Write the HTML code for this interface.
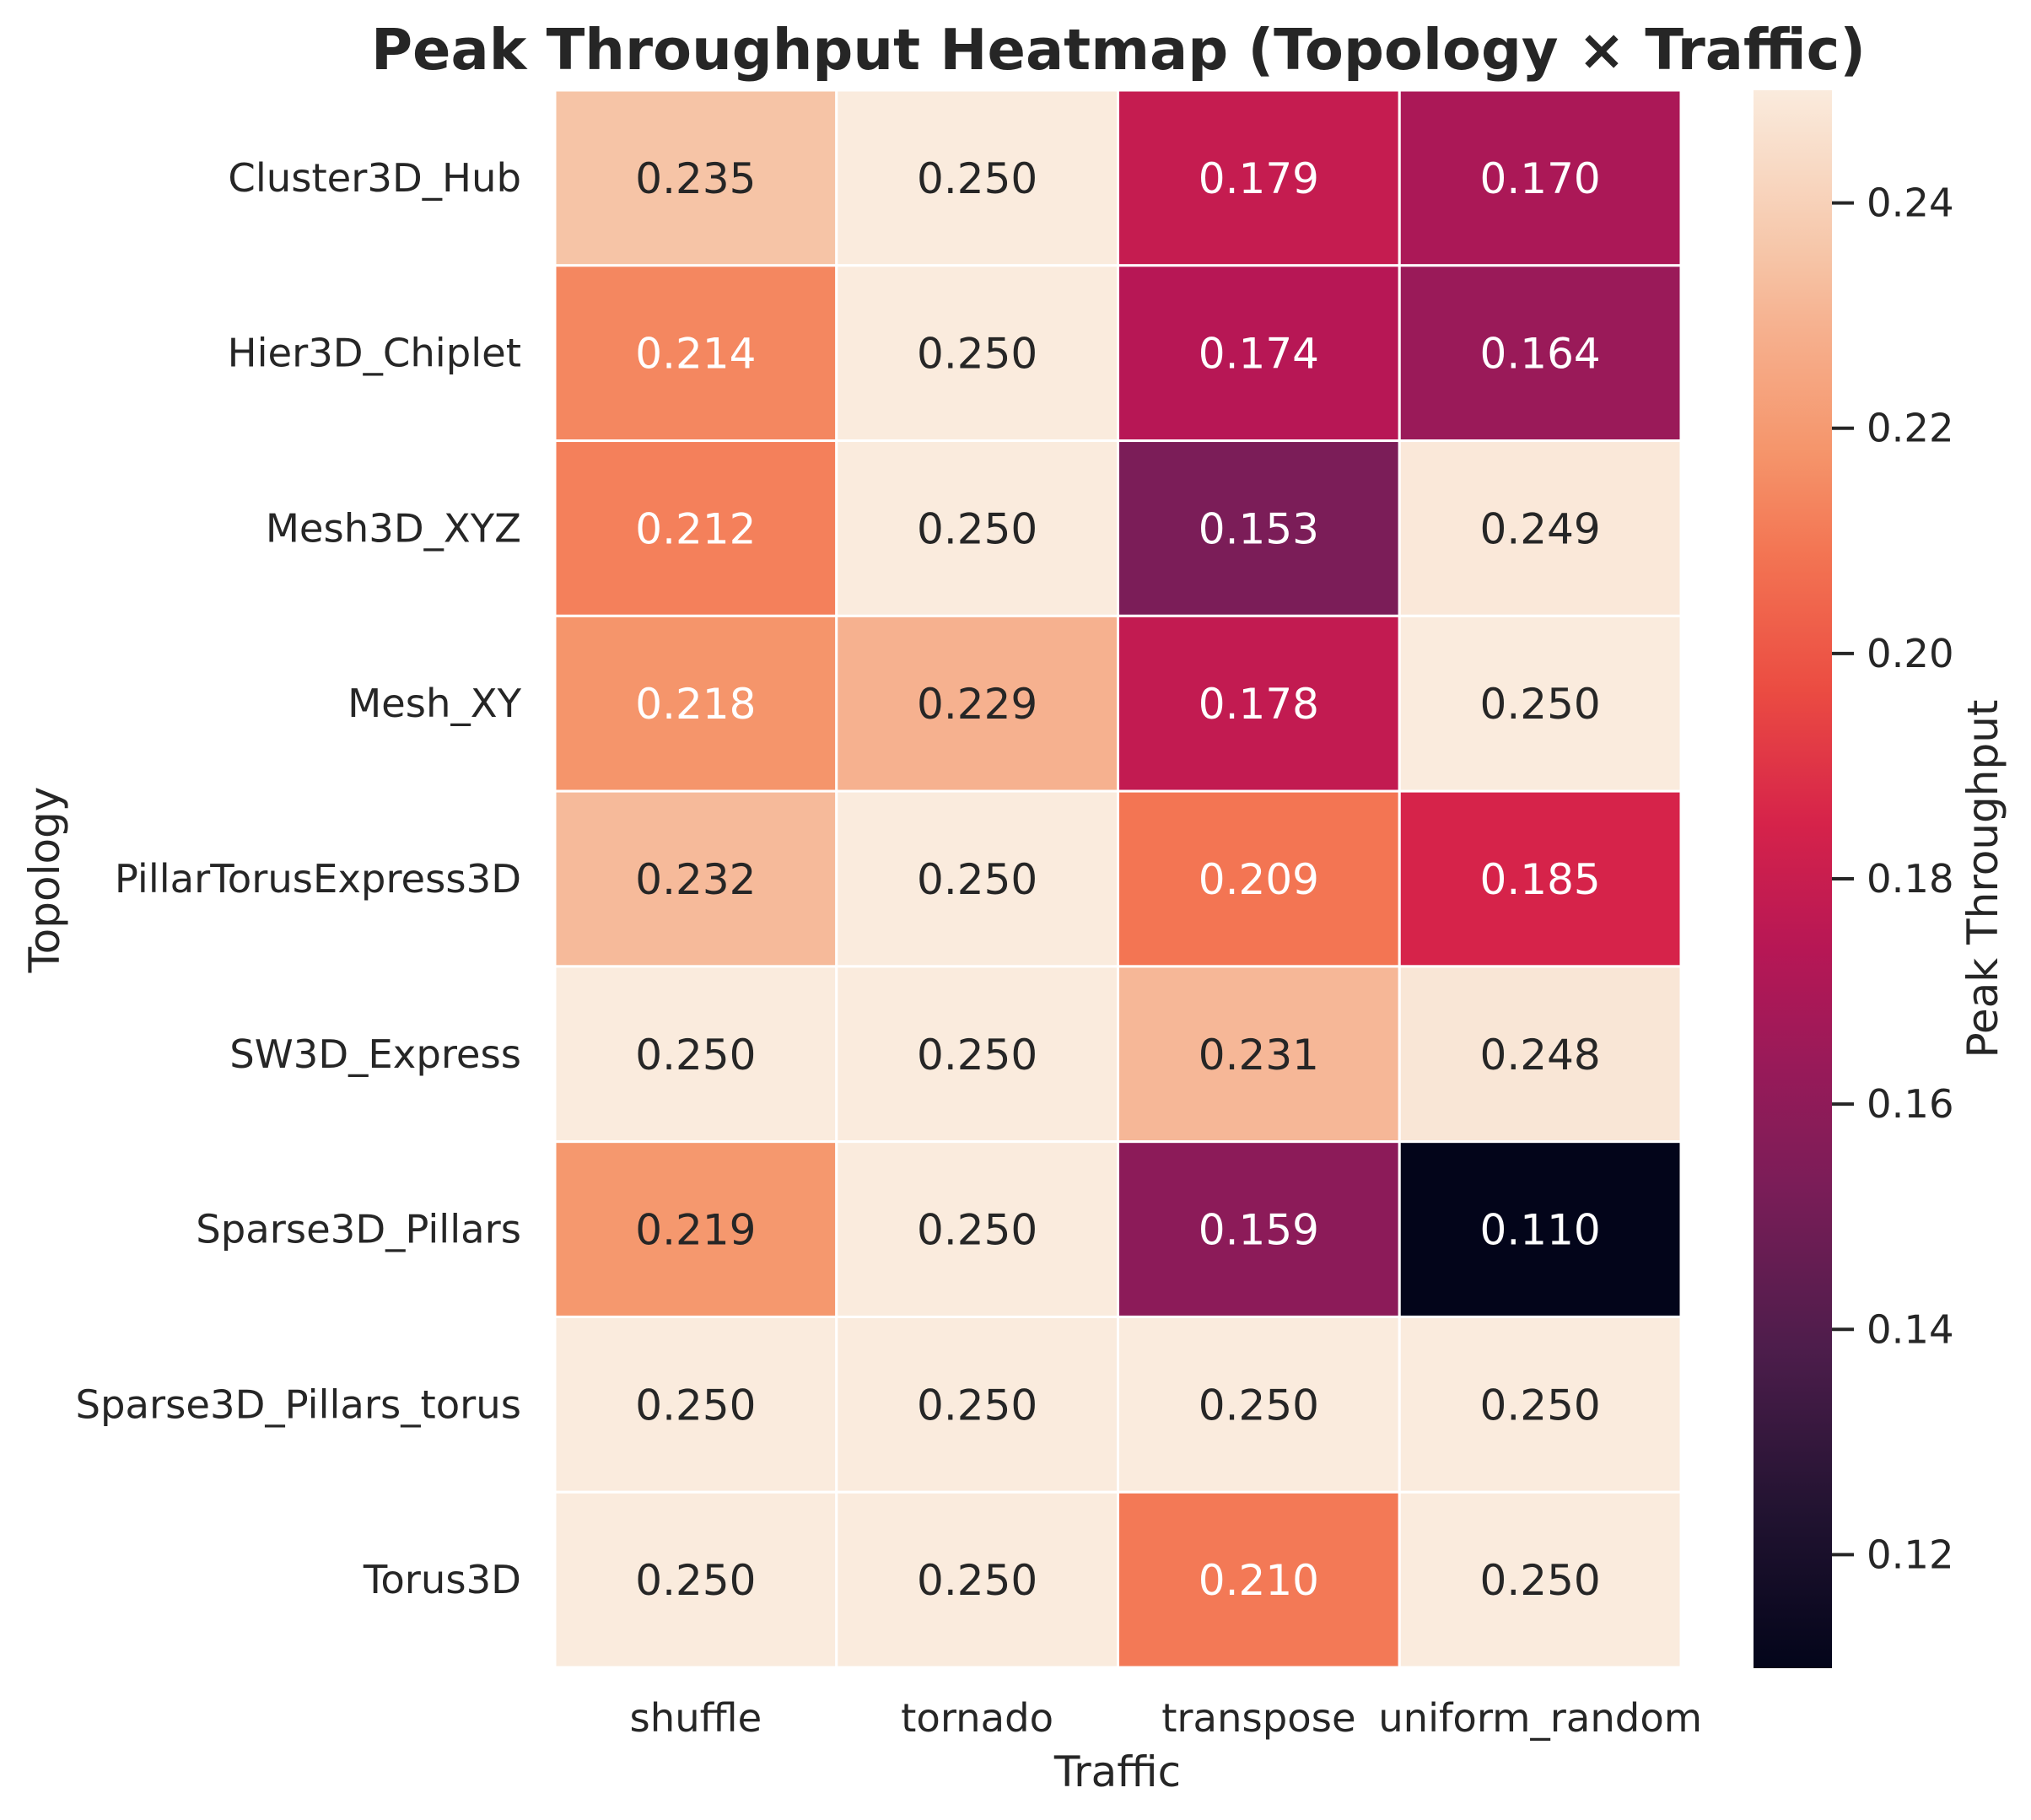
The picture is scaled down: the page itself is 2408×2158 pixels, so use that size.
<!DOCTYPE html>
<html><head><meta charset="utf-8"><style>
html,body{margin:0;padding:0;background:#fff;}
svg{display:block;font-family:"DejaVu Sans","Liberation Sans",sans-serif;}
</style></head><body>
<svg id="chart" width="2408" height="2158" viewBox="0 0 2408 2158" xmlns="http://www.w3.org/2000/svg">
<text x="1326" y="82" text-anchor="middle" font-size="67" font-weight="bold" fill="#262626">Peak Throughput Heatmap (Topology × Traffic)</text>
<defs><linearGradient id="rocket" x1="0" y1="1" x2="0" y2="0"></linearGradient></defs>
<g id="cells"></g>
<g id="yticks"></g>
<g id="xticks"></g>
<text x="1325" y="2118" text-anchor="middle" font-size="50" fill="#262626">Traffic</text>
<text transform="translate(70,1043) rotate(-90)" text-anchor="middle" font-size="50" fill="#262626">Topology</text>
<rect x="2079" y="107" width="93" height="1871" fill="url(#rocket)"/>
<g id="cbticks"></g>
<text transform="translate(2368,1042) rotate(-90)" text-anchor="middle" font-size="50" fill="#262626">Peak Throughput</text>
</svg>
<script>
const topologies=["Cluster3D_Hub","Hier3D_Chiplet","Mesh3D_XYZ","Mesh_XY","PillarTorusExpress3D","SW3D_Express","Sparse3D_Pillars","Sparse3D_Pillars_torus","Torus3D"];
const traffics=["shuffle","tornado","transpose","uniform_random"];
const shuffleVals=[0.235,0.214,0.212,0.218,0.232,0.250,0.219,0.250,0.250];
const tornadoVals=[0.250,0.250,0.250,0.229,0.250,0.250,0.250,0.250,0.250];
const transposeVals=[0.179,0.174,0.153,0.178,0.209,0.231,0.159,0.250,0.210];
const uniformVals=[0.170,0.164,0.249,0.250,0.185,0.248,0.110,0.250,0.250];
const cbTicks=[0.12,0.14,0.16,0.18,0.20,0.22,0.24];
const series=[shuffleVals,tornadoVals,transposeVals,uniformVals];
const vmin=0.110,vmax=0.250;
const L=658,R=1993,T=107,B=1977;
const NS="http://www.w3.org/2000/svg";
const stops=[[0,"#03051a"],[0.1,"#221331"],[0.2,"#4c1d4b"],[0.307,"#7b1d58"],[0.386,"#9a1a59"],[0.457,"#b71755"],[0.536,"#d6234a"],[0.62,"#eb4c42"],[0.707,"#f37553"],[0.771,"#f5956b"],[0.85,"#f6b18f"],[0.893,"#f6c4a6"],[1,"#faebdd"]];
function hex(h){return [1,3,5].map(i=>parseInt(h.substr(i,2),16));}
function cmap(t){t=Math.max(0,Math.min(1,t));for(let i=1;i<stops.length;i++){if(t<=stops[i][0]){const a=stops[i-1],b=stops[i];const f=(t-a[0])/(b[0]-a[0]);const ca=hex(a[1]),cb=hex(b[1]);return "rgb("+ca.map((c,k)=>Math.round(c+(cb[k]-c)*f)).join(",")+")";}}return stops[stops.length-1][1];}
const xs=i=>L+i*(R-L)/traffics.length;
const ys=j=>T+j*(B-T)/topologies.length;
const cw=(R-L)/traffics.length,ch=(B-T)/topologies.length;
const cbY=v=>B-(v-vmin)/(vmax-vmin)*(B-T);
const grad=document.getElementById('rocket');
stops.forEach(s=>{const st=document.createElementNS(NS,'stop');st.setAttribute('offset',s[0]);st.setAttribute('stop-color',s[1]);grad.appendChild(st);});
const cells=document.getElementById('cells');
series.forEach((vals,i)=>{vals.forEach((v,j)=>{
const r=document.createElementNS(NS,'rect');


r.setAttribute('x',xs(i));r.setAttribute('y',ys(j));r.setAttribute('width',cw);r.setAttribute('height',ch);
r.setAttribute('fill',cmap((v-vmin)/(vmax-vmin)));r.setAttribute('stroke','#fff');r.setAttribute('stroke-width','3');
cells.appendChild(r);
const t=document.createElementNS(NS,'text');


t.setAttribute('x',xs(i)+cw/2);t.setAttribute('y',ys(j)+ch/2+18);t.setAttribute('text-anchor','middle');t.setAttribute('font-size','50');
t.setAttribute('fill',v<0.2185?'#ffffff':'#262626');t.textContent=v.toFixed(3);cells.appendChild(t);
});});
const yt=document.getElementById('yticks');
topologies.forEach((n,j)=>{const t=document.createElementNS(NS,'text');


t.setAttribute('x',618);t.setAttribute('y',ys(j)+ch/2+16);t.setAttribute('text-anchor','end');t.setAttribute('font-size','46.5');t.setAttribute('fill','#262626');t.textContent=n;yt.appendChild(t);});
const xt=document.getElementById('xticks');
traffics.forEach((n,i)=>{const t=document.createElementNS(NS,'text');


t.setAttribute('x',xs(i)+cw/2);t.setAttribute('y',2053);t.setAttribute('text-anchor','middle');t.setAttribute('font-size','46.5');t.setAttribute('fill','#262626');t.textContent=n;xt.appendChild(t);});
const cbt=document.getElementById('cbticks');
cbTicks.forEach(v=>{const y=cbY(v);
const l=document.createElementNS(NS,'line');


l.setAttribute('x1',2172);l.setAttribute('x2',2198);l.setAttribute('y1',y);l.setAttribute('y2',y);l.setAttribute('stroke','#262626');l.setAttribute('stroke-width','4');cbt.appendChild(l);
const t=document.createElementNS(NS,'text');


t.setAttribute('x',2213);t.setAttribute('y',y+16);t.setAttribute('font-size','46.5');t.setAttribute('fill','#262626');t.textContent=v.toFixed(2);cbt.appendChild(t);});
</script>
</body></html>
